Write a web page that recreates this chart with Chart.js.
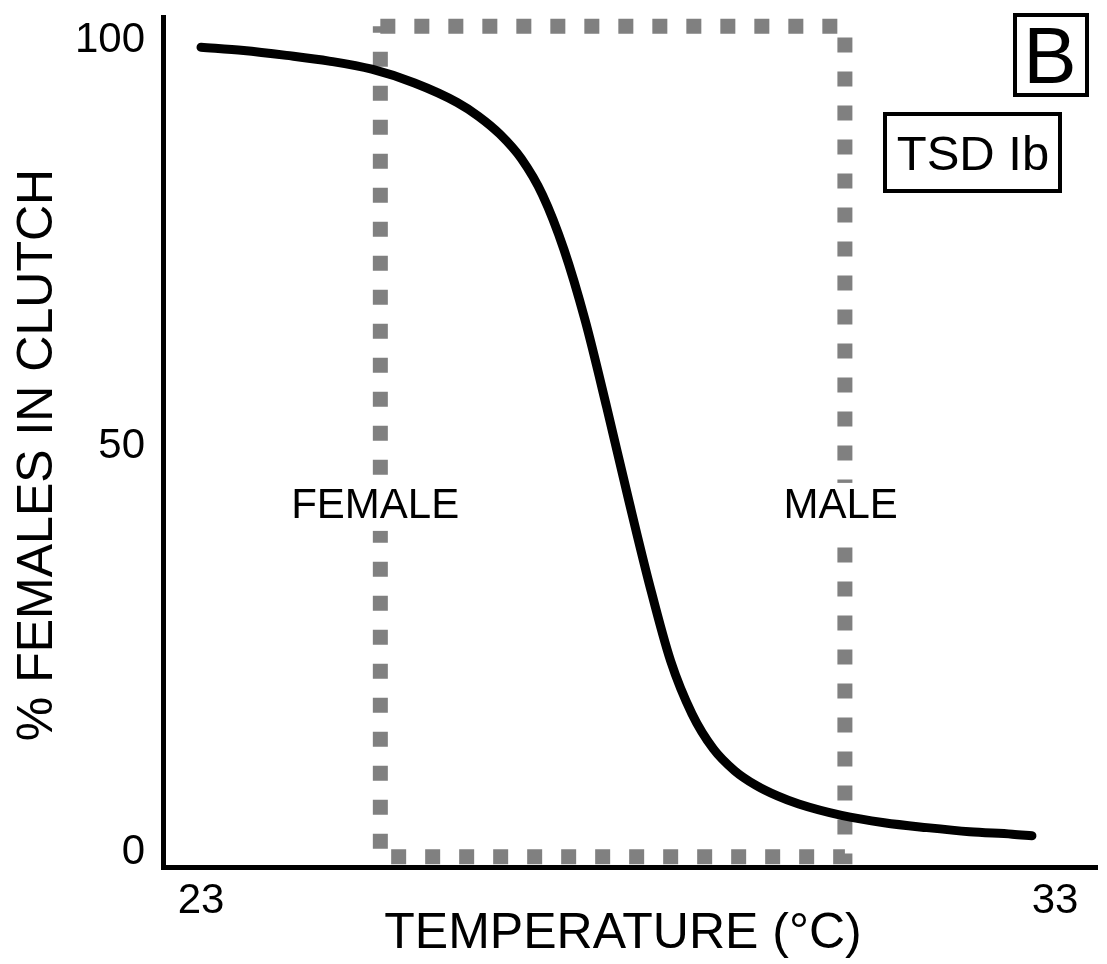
<!DOCTYPE html>
<html>
<head>
<meta charset="utf-8">
<script src="https://cdn.jsdelivr.net/npm/chart.js@4/dist/chart.umd.min.js"></script>
<style>
  html, body { margin: 0; padding: 0; background: #ffffff; }
  #wrap { width: 1107px; height: 964px; }
</style>
</head>
<body>
<div id="wrap"><canvas id="c" width="1107" height="964"></canvas></div>
<script>
// Incubation temperature (°C) and share of females in the clutch (%)
const temps = [23, 23.5, 24, 24.5, 25, 25.5, 26, 26.25, 26.5, 26.75, 27, 27.25, 27.5, 27.75, 28, 28.25, 28.5, 28.75, 29, 29.25, 29.5, 29.75, 30, 30.5, 31, 31.5, 32, 32.5, 32.73];
const femalePct = [99.1, 98.7, 98.1, 97.4, 96.4, 94.7, 92.3, 90.6, 88.4, 85.4, 80.9, 74.2, 65.4, 54.8, 43.7, 33.0, 23.5, 17.0, 12.7, 10.0, 8.2, 6.9, 5.9, 4.5, 3.6, 3.0, 2.5, 2.2, 2.0];

// Axis ticks
const xTicks = [23, 33];
const yTicks = [0, 50, 100];

// Axis titles
const xTitle = 'TEMPERATURE (°C)';
const yTitle = '% FEMALES IN CLUTCH';

// Transitional range of temperatures (dashed frame)
const rangeTemps = [25.1, 30.54];
const rangePct = [-0.6, 101.7];

// Region labels
const regionLabels = ['FEMALE', 'MALE'];
const regionLabelTemps = [25.04, 30.49];
const regionLabelPct = 42.5;

const FONT = '"Liberation Sans", Arial, Helvetica, sans-serif';

const curve = temps.map((t, i) => ({ x: t, y: femalePct[i] }));
const frame = [
  { x: rangeTemps[0], y: rangePct[1] },
  { x: rangeTemps[1], y: rangePct[1] },
  { x: rangeTemps[1], y: rangePct[0] },
  { x: rangeTemps[0], y: rangePct[0] },
  { x: rangeTemps[0], y: rangePct[1] }
];

// Axis titles, region labels and framed panel tags
const annotations = {
  id: 'annotations',
  afterDatasetsDraw(chart) {
    const { ctx, scales: { x, y } } = chart;
    ctx.save();
    ctx.fillStyle = '#000000';
    ctx.textAlign = 'center';
    ctx.textBaseline = 'middle';

    // axis titles
    ctx.font = '50px ' + FONT;
    ctx.fillText(xTitle, 623, 934);
    ctx.save();
    ctx.translate(38, 455);
    ctx.rotate(-Math.PI / 2);
    ctx.font = '50px ' + FONT;
    ctx.fillText(yTitle, 0, 0);
    ctx.restore();

    // FEMALE / MALE labels over the frame
    ctx.font = '42px ' + FONT;
    regionLabels.forEach((txt, i) => {
      const px = x.getPixelForValue(regionLabelTemps[i]);
      const py = y.getPixelForValue(regionLabelPct);
      const w = ctx.measureText(txt).width;
      ctx.fillStyle = '#ffffff';
      ctx.fillRect(px - w / 2 - 4, py - 24, w + 8, 48);
      ctx.fillStyle = '#000000';
      ctx.fillText(txt, px, py);
    });

    // "B" tag
    ctx.lineWidth = 4;
    ctx.strokeStyle = '#000000';
    ctx.strokeRect(1015, 15, 72, 80);
    ctx.font = '80px ' + FONT;
    ctx.textBaseline = 'alphabetic';
    ctx.fillText('B', 1050, 83);

    // "TSD Ib" tag
    ctx.strokeRect(885, 114, 175, 77);
    ctx.font = '49px ' + FONT;
    ctx.fillText('TSD Ib', 973, 170);
    ctx.restore();
  }
};

new Chart(document.getElementById('c'), {
  type: 'line',
  data: {
    datasets: [
      {
        data: curve,
        borderColor: '#000000',
        borderWidth: 9,
        borderCapStyle: 'round',
        borderJoinStyle: 'round',
        cubicInterpolationMode: 'monotone',
        pointRadius: 0,
        fill: false,
        order: 0
      },
      {
        data: frame,
        borderColor: '#808080',
        borderWidth: 15,
        borderDash: [15, 19],
        borderCapStyle: 'butt',
        borderJoinStyle: 'miter',
        tension: 0,
        pointRadius: 0,
        fill: false,
        order: 1
      }
    ]
  },
  options: {
    responsive: false,
    devicePixelRatio: 1,
    animation: false,
    events: [],
    layout: { padding: { top: 17, right: 10, left: 0, bottom: 0 } },
    plugins: { legend: { display: false }, tooltip: { enabled: false } },
    scales: {
      x: {
        type: 'linear',
        min: 22.555,
        max: 33.492,
        afterBuildTicks: (axis) => { axis.ticks = xTicks.map(v => ({ value: v })); },
        afterFit: (axis) => {
          axis.height = 97;
          axis.paddingLeft = 0;
          axis.paddingRight = 0;
        },
        grid: { display: false, drawTicks: false },
        border: { display: true, color: '#000000', width: 5 },
        ticks: {
          color: '#000000',
          padding: 9,
          maxRotation: 0,
          font: { family: FONT, size: 42, lineHeight: 1.2 },
          callback: (v) => String(v)
        },
        title: { display: false }
      },
      y: {
        type: 'linear',
        min: -1.847,
        max: 102.83,
        afterBuildTicks: (axis) => { axis.ticks = yTicks.map(v => ({ value: v })); },
        afterFit: (axis) => {
          axis.width = 163;
          axis.paddingTop = 0;
          axis.paddingBottom = 0;
        },
        grid: { display: false, drawTicks: false },
        border: { display: true, color: '#000000', width: 5 },
        ticks: {
          color: '#000000',
          padding: 18,
          font: { family: FONT, size: 42, lineHeight: 1.2 },
          callback: (v) => String(v)
        },
        title: { display: false }
      }
    }
  },
  plugins: [annotations]
});
</script>
</body>
</html>
